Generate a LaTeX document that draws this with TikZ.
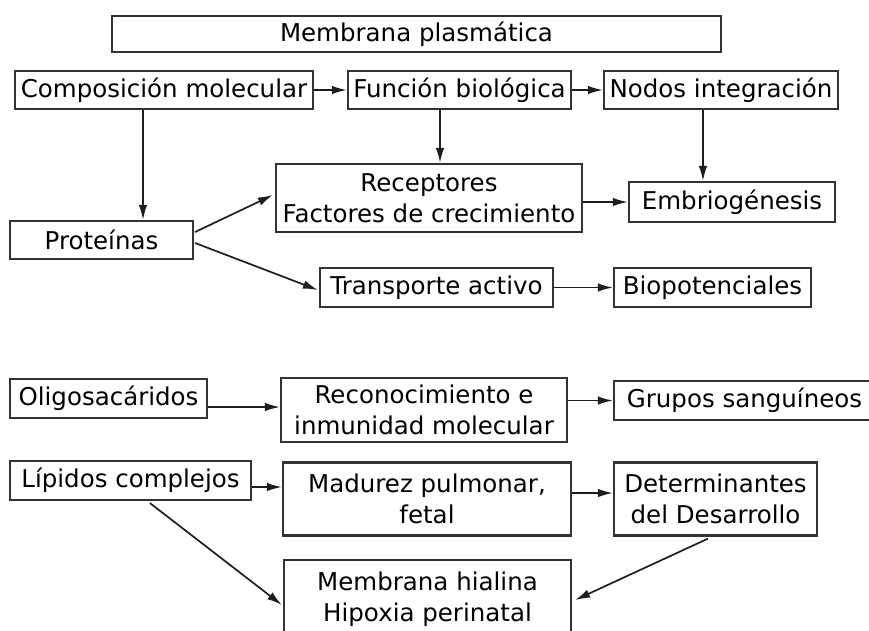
\documentclass[tikz,border=0pt]{standalone}
\usepackage{fontspec}
\setmainfont{DejaVu Sans}
\usetikzlibrary{arrows.meta,calc}
\definecolor{ink}{HTML}{333333}
\definecolor{arrink}{HTML}{1E1E1E}
\tikzset{
  box/.style={draw=ink, line width=2.2pt, inner sep=0pt, align=center, text=black,
    font=\fontsize{24.5}{31}\selectfont},
  arr/.style={draw=arrink, line width=1.7pt, -{Latex[length=15pt,width=8.5pt]}},
}
\begin{document}
\begin{tikzpicture}[x=1pt,y=-1pt]
\useasboundingbox (0,0) rectangle (869,630);
% nodes
\node[box, minimum width=609pt, minimum height=36pt] (mp) at (416.5,34) {Membrana plasmática};
\node[box, minimum width=298pt, minimum height=38pt] (comp) at (164,90) {Composición molecular};
\node[box, minimum width=223pt, minimum height=38pt] (func) at (459.5,90) {Función biológica};
\node[box, minimum width=234pt, minimum height=38pt] (nodos) at (721,90) {Nodos integración};
\node[box, minimum width=306pt, minimum height=68pt] (rec) at (429,198) {Receptores\\Factores de crecimiento};
\node[box, minimum width=206pt, minimum height=40pt] (emb) at (732,202) {Embriogénesis};
\node[box, minimum width=183pt, minimum height=38pt] (prot) at (101.5,240) {Proteínas};
\node[box, minimum width=233pt, minimum height=39pt] (trans) at (436.5,287.5) {Transporte activo};
\node[box, minimum width=197pt, minimum height=39pt] (bio) at (712.5,287.5) {Biopotenciales};
\node[box, minimum width=197pt, minimum height=39pt] (oligo) at (108.5,398.5) {Oligosacáridos};
\node[box, minimum width=286pt, minimum height=64pt] (recon) at (424,410) {Reconocimiento e\\inmunidad molecular};
\node[box, minimum width=261pt, minimum height=39pt] (grupos) at (744.5,400.5) {Grupos sanguíneos};
\node[box, minimum width=241pt, minimum height=39pt] (lip) at (130.5,480.5) {Lípidos complejos};
\node[box, minimum width=288pt, minimum height=73pt] (mad) at (427,499) {Madurez pulmonar,\\fetal};
\node[box, minimum width=203pt, minimum height=73pt] (det) at (715.5,499) {Determinantes\\del Desarrollo};
\node[box, minimum width=287pt, minimum height=78pt] (hial) at (427.5,599) {Membrana hialina\\Hipoxia perinatal};
% connector anchor points
\coordinate (c1) at ($(comp.south)+(-21,0)$);
\coordinate (f1) at ($(func.south)+(-19.5,0)$);
\coordinate (n1) at ($(nodos.south)+(-18,0)$);
\coordinate (o1) at ($(oligo.east)+(0,8.5)$);
\coordinate (l1) at ($(lip.east)+(0,6.5)$);
\coordinate (m1) at ($(mad.east)+(0,-6)$);
% connectors
\draw[arr] (comp) -- (func);
\draw[arr] (func) -- (nodos);
\draw[arr] (c1) -- (c1 |- prot.north);
\draw[arr] (f1) -- (f1 |- rec.north);
\draw[arr] (n1) -- (n1 |- emb.north);
\draw[arr] ($(prot.east)+(1,-8)$) -- ($(rec.west)+(-2,-3)$);
\draw[arr] ($(prot.east)+(1,3)$) -- ($(trans.west)+(-1,2.5)$);
\draw[arr] (rec.east |- emb.west) -- (emb.west);
\draw[arr] (trans) -- (bio);
\draw[arr] (o1) -- (o1 -| recon.west);
\draw[arr] (recon.east |- grupos.west) -- (grupos.west);
\draw[arr] (l1) -- (l1 -| mad.west);
\draw[arr] (m1) -- (m1 -| det.west);
\draw[arr] ($(lip.south)+(19.5,2)$) -- ($(hial.west)+(-1,6)$);
\draw[arr] ($(det.south)+(-7.5,2)$) -- ($(hial.east)+(3,1)$);
\end{tikzpicture}
\end{document}
